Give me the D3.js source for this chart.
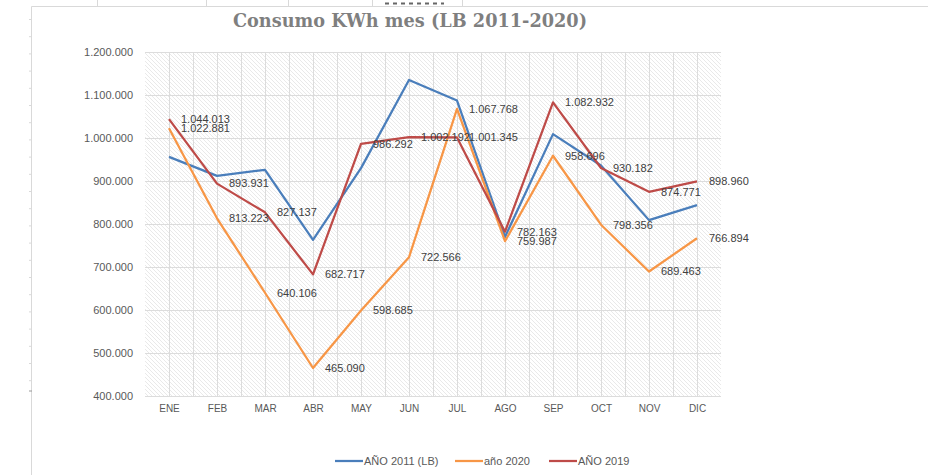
<!DOCTYPE html>
<html>
<head>
<meta charset="utf-8">
<script src="https://cdn.jsdelivr.net/npm/d3@7"></script>
<style>
  html, body { margin: 0; padding: 0; background: #fff; }
  svg { display: block; font-family: "Liberation Sans", Arial, sans-serif; }
</style>
</head>
<body>
<svg id="chart" width="937" height="475"></svg>
<script>
const months = ['ENE', 'FEB', 'MAR', 'ABR', 'MAY', 'JUN', 'JUL', 'AGO', 'SEP', 'OCT', 'NOV', 'DIC']
const yTicks = [400000, 500000, 600000, 700000, 800000, 900000, 1000000, 1100000, 1200000]

const year2011 = [956000, 912000, 926000, 763000, 930000, 1135000, 1087000, 770000, 1009000, 936000, 809000, 844000]
const year2020 = [1022881, 813223, 640106, 465090, 598685, 722566, 1067768, 759987, 958696, 798356, 689463, 766894]
const year2019 = [1044013, 893931, 827137, 682717, 986292, 1002192, 1001345, 782163, 1082932, 930182, 874771, 898960]

const series = [
  { name: 'AÑO 2011 (LB)', values: year2011, color: '#4a7ebb', labels: false },
  { name: 'año 2020', values: year2020, color: '#f79646', labels: true },
  { name: 'AÑO 2019', values: year2019, color: '#be4b48', labels: true }
]

const fmt = d3.formatLocale({ decimal: ',', thousands: '.', grouping: [3], currency: ['', ''] }).format(',d')

const svg = d3.select('#chart')
const plot = { left: 145, right: 721, top: 52, bottom: 396 }

const x = d3.scalePoint()
  .domain(months)
  .range([plot.left, plot.right])
  .padding(0.5)

const y = d3.scaleLinear()
  .domain([400000, 1200000])
  .range([plot.bottom, plot.top])

// spreadsheet frame and stray marks behind the chart
const frame = svg.append('g').attr('stroke', '#d9d9d9').attr('fill', 'none')
frame.append('path').attr('d', 'M31.5,475 V6.5 H928')
frame.selectAll('line.lt')
  .data(d3.range(19.5, 385, 17.2))
  .join('line')
  .attr('x1', 29).attr('x2', 31)
  .attr('y1', d => d).attr('y2', d => d)
frame.append('line').attr('x1', 29).attr('x2', 32).attr('y1', 391).attr('y2', 391).attr('stroke', '#9a9a9a')
frame.selectAll('line.tp')
  .data([97, 206, 288, 372, 462])
  .join('line')
  .attr('x1', d => d + 0.5).attr('x2', d => d + 0.5)
  .attr('y1', 0).attr('y2', 6)
svg.append('line')
  .attr('x1', 385).attr('x2', 444).attr('y1', 3.5).attr('y2', 3.5)
  .attr('stroke', '#666').attr('stroke-width', 2).attr('stroke-dasharray', '4,4')

// hatched plot background
const defs = svg.append('defs')
const pat = defs.append('pattern')
  .attr('id', 'hatch')
  .attr('patternUnits', 'userSpaceOnUse')
  .attr('width', 4)
  .attr('height', 4)
pat.append('rect').attr('width', 4).attr('height', 4).attr('fill', '#fff')
pat.append('path')
  .attr('d', 'M0,0 L4,4 M-1,3 L1,5 M3,-1 L5,1')
  .attr('stroke', '#e9e9e9')
  .attr('stroke-width', 1)

svg.append('rect')
  .attr('x', plot.left)
  .attr('y', plot.top)
  .attr('width', plot.right - plot.left)
  .attr('height', plot.bottom - plot.top)
  .attr('fill', 'url(#hatch)')

// gridlines
const step = x.step() / 2
svg.append('g')
  .selectAll('line')
  .data(d3.range(plot.left + step, plot.right, step))
  .join('line')
  .attr('x1', d => Math.round(d) + 0.5)
  .attr('x2', d => Math.round(d) + 0.5)
  .attr('y1', plot.top)
  .attr('y2', plot.bottom)
  .attr('stroke', '#dcdcdc')

svg.append('g')
  .selectAll('line')
  .data(yTicks)
  .join('line')
  .attr('x1', plot.left)
  .attr('x2', plot.right)
  .attr('y1', d => Math.round(y(d)) + 0.5)
  .attr('y2', d => Math.round(y(d)) + 0.5)
  .attr('stroke', '#dcdcdc')

// axes
const yAxis = svg.append('g')
  .attr('transform', `translate(${plot.left},0)`)
  .call(d3.axisLeft(y).tickValues(yTicks).tickFormat(fmt).tickSize(0).tickPadding(12))
yAxis.select('.domain').remove()
yAxis.selectAll('text')
  .attr('fill', '#595959')
  .style('font-size', '11px')
  .style('font-family', '"Liberation Sans", Arial, sans-serif')

const xAxis = svg.append('g')
  .attr('transform', `translate(0,${plot.bottom})`)
  .call(d3.axisBottom(x).tickSize(0).tickPadding(9))
xAxis.select('.domain').remove()
xAxis.selectAll('text')
  .attr('fill', '#595959')
  .style('font-size', '10px')
  .style('font-family', '"Liberation Sans", Arial, sans-serif')

// lines
const line = d3.line()
  .x((d, i) => x(months[i]))
  .y(d => y(d))

svg.append('g')
  .selectAll('path')
  .data(series)
  .join('path')
  .attr('d', d => line(d.values))
  .attr('fill', 'none')
  .attr('stroke', d => d.color)
  .attr('stroke-width', 2.25)
  .attr('stroke-linejoin', 'round')

// data labels
series.filter(s => s.labels).forEach(s => {
  svg.append('g')
    .selectAll('text')
    .data(s.values)
    .join('text')
    .attr('x', (d, i) => x(months[i]) + 12)
    .attr('y', d => y(d))
    .attr('dy', '0.35em')
    .attr('fill', '#404040')
    .style('font-size', '11px')
    .text(d => fmt(d))
})

// title
svg.append('text')
  .attr('x', 410)
  .attr('y', 27)
  .attr('text-anchor', 'middle')
  .attr('fill', '#7f7f7f')
  .attr('textLength', 354)
  .attr('lengthAdjust', 'spacingAndGlyphs')
  .style('font-family', '"DejaVu Serif", "Liberation Serif", serif')
  .style('font-weight', 'bold')
  .style('font-size', '18px')
  .text('Consumo KWh mes (LB 2011-2020)')

// legend
const legendX = [335, 455, 549]
const legend = svg.append('g')
  .selectAll('g')
  .data(series)
  .join('g')
  .attr('transform', (d, i) => `translate(${legendX[i]},461)`)
legend.append('line')
  .attr('x1', 0).attr('x2', 28)
  .attr('stroke', d => d.color)
  .attr('stroke-width', 2.25)
legend.append('text')
  .attr('x', 29)
  .attr('dy', '0.35em')
  .attr('fill', '#595959')
  .style('font-size', '11px')
  .text(d => d.name)
</script>
</body>
</html>
